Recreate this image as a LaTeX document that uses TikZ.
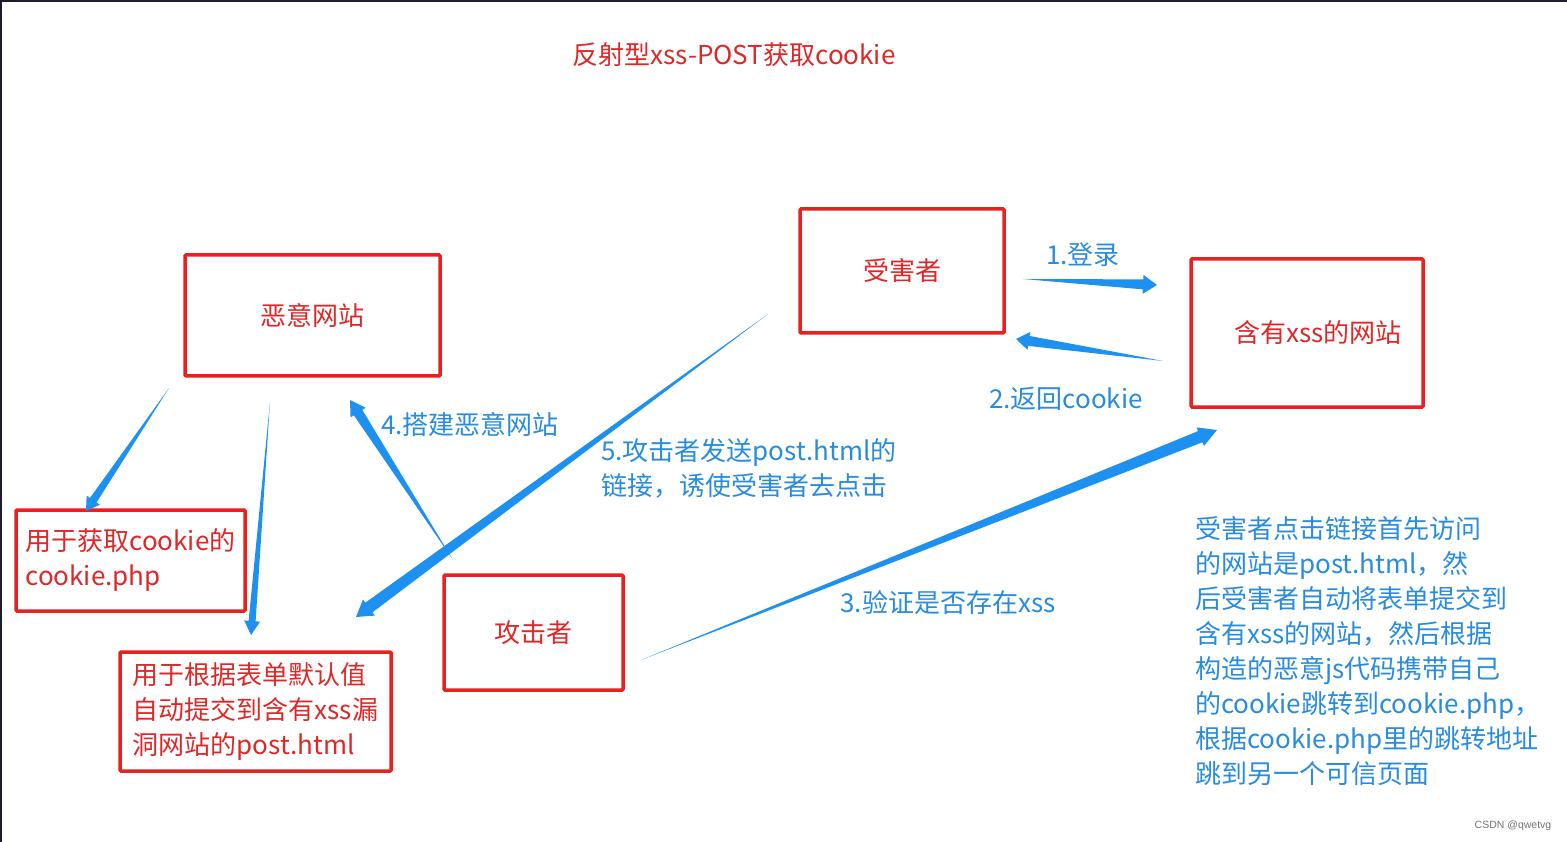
\documentclass[tikz,border=0pt]{standalone}
\usepackage{fontspec}
\setmainfont{Noto Sans CJK SC}
\newfontfamily\wmfont{Liberation Sans}
\usetikzlibrary{calc}
\definecolor{boxred}{RGB}{232,32,32}
\definecolor{txtred}{RGB}{222,40,40}
\definecolor{txtblue}{RGB}{40,140,222}
\definecolor{arrblue}{RGB}{30,145,240}
\definecolor{framecol}{RGB}{30,28,40}
\tikzset{
  redbox/.style={draw=boxred, line width=3.5pt, rounded corners=1pt, inner sep=0pt,
    text=txtred, font=\fontsize{26}{35}\selectfont, align=left},
  redtxt/.style={text=txtred, font=\fontsize{26}{35}\selectfont, inner sep=0pt},
  bluetxt/.style={text=txtblue, font=\fontsize{26}{35}\selectfont, align=left, inner sep=0pt},
}
\newcommand\taperarrow[5]{%
  \coordinate (hb) at ($(#2)!#5!(#1)$);
  \fill[arrblue] (#1) -- ($(hb)!#3!90:(#2)$) -- ($(hb)!#4!90:(#2)$) -- (#2)
     -- ($(hb)!#4!-90:(#2)$) -- ($(hb)!#3!-90:(#2)$) -- cycle;}
\begin{document}
\begin{tikzpicture}[x=1pt,y=-1pt]
\useasboundingbox (0,0) rectangle (1567,842);
\fill[white] (0,0) rectangle (1567,842);
\draw[framecol, line width=4pt] (0,842) -- (0,0) -- (1567,0);

% title
\node[redtxt] (title) at (734,55) {反射型xss-POST获取cookie};

% boxes
\node[redbox, minimum width=255pt, minimum height=121pt] (evil) at (312.5,315.5) {恶意网站};
\node[redbox, minimum width=204pt, minimum height=124pt] (victim) at (902,271) {\raisebox{-3pt}{受害者}};
\node[redbox, minimum width=232pt, minimum height=148pt] (xsssite) at (1307,333) {\hspace*{22pt}含有xss的网站};
\node[redbox, minimum width=229pt, minimum height=101pt] (cookiephp) at (130.5,560.5) {用于获取cookie的\\cookie.php};
\node[redbox, minimum width=271pt, minimum height=119pt] (posthtml) at (255.5,711.5) {用于根据表单默认值\\自动提交到含有xss漏\\洞网站的post.html};
\node[redbox, minimum width=179pt, minimum height=115pt] (attacker) at (533.5,632.5) {攻击者};

% arrow end points
\coordinate (a1t) at (169,388);  \coordinate (a1h) at (86,511);
\coordinate (a2t) at (270,402);  \coordinate (a2h) at (251,635);
\coordinate (a3t) at (453,560);  \coordinate (a3h) at (350,400);
\coordinate (a4t) at (768,314);  \coordinate (a4h) at (356,617);
\coordinate (a5t) at (1023,279); \coordinate (a5h) at (1157,285);
\coordinate (a6t) at (1163,361); \coordinate (a6h) at (1016,339);
\coordinate (a7t) at (641,660);  \coordinate (a7h) at (1217,430);

% arrows
\taperarrow{a1t}{a1h}{4pt}{8pt}{13pt}
\taperarrow{a2t}{a2h}{3.5pt}{8pt}{14pt}
\taperarrow{a3t}{a3h}{5pt}{9pt}{15pt}
\taperarrow{a4t}{a4h}{6pt}{10pt}{16pt}
\taperarrow{a5t}{a5h}{5pt}{9.5pt}{14pt}
\taperarrow{a6t}{a6h}{5pt}{9pt}{13pt}
\taperarrow{a7t}{a7h}{6pt}{10pt}{18pt}

% labels
\node[bluetxt] (l1) at (1083,255) {1.登录};
\node[bluetxt] (l2) at (1066,399) {2.返回cookie};
\node[bluetxt] (l4) at (470,425) {4.搭建恶意网站};
\node[bluetxt, anchor=west] (l5) at (601,468.5) {5.攻击者发送post.html的\\链接，诱使受害者去点击};
\node[bluetxt] (l3) at (948,603) {3.验证是否存在xss};
\node[bluetxt, anchor=west] (note) at (1195,651.5) {受害者点击链接首先访问\\的网站是post.html，然\\后受害者自动将表单提交到\\含有xss的网站，然后根据\\构造的恶意js代码携带自己\\的cookie跳转到cookie.php，\\根据cookie.php里的跳转地址\\跳到另一个可信页面};

% watermark
\node[text=black!55, font=\wmfont\fontsize{10.5}{12}\selectfont, inner sep=0pt] (wm) at (1513,826) {CSDN @qwetvg};
\end{tikzpicture}
\end{document}
